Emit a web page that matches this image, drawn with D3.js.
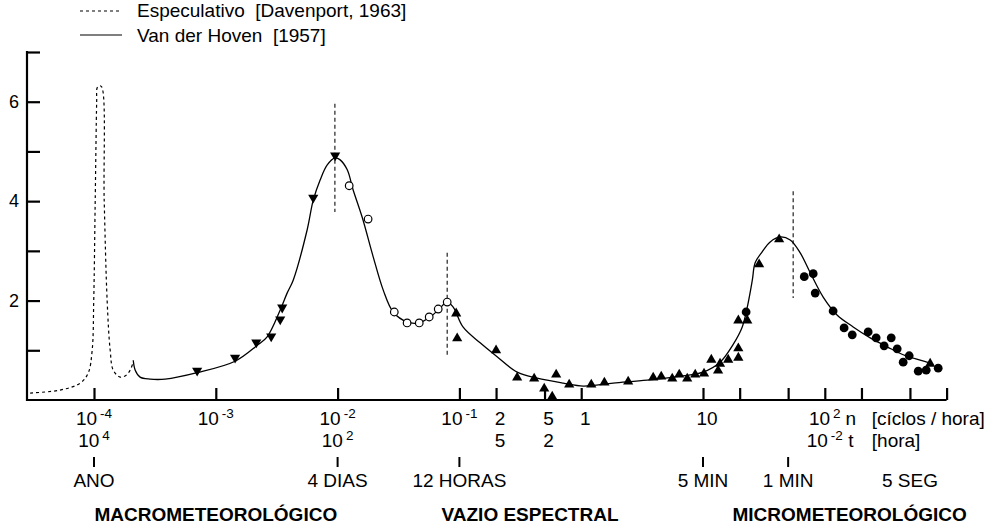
<!DOCTYPE html>
<html>
<head>
<meta charset="utf-8">
<script src="https://cdn.jsdelivr.net/npm/d3@7"></script>
<style>
body { margin: 0; background: #fff; }
text { font-family: Arial, "Liberation Sans", sans-serif; fill: #000; }
</style>
</head>
<body>
<div id="chart"></div>
<script>
// n = frequencia [ciclos / hora], S = energia espectral
var especulativo = [
    [2.99e-5, 0.14], [5.27e-5, 0.20], [7.71e-5, 0.34], [8.95e-5, 0.54], [9.66e-5, 1.0],
    [9.95e-5, 2.0], [1.023e-4, 4.0], [1.052e-4, 6.0], [1.062e-4, 6.28], [1.104e-4, 6.32],
    [1.156e-4, 6.3], [1.213e-4, 4.0], [1.282e-4, 2.0], [1.358e-4, 1.0], [1.439e-4, 0.6],
    [1.641e-4, 0.46], [1.837e-4, 0.5], [1.982e-4, 0.6], [2.099e-4, 0.76]
];
var vanDerHoven = [
    [2.10e-4, 0.80], [2.18e-4, 0.60], [2.39e-4, 0.46], [2.89e-4, 0.42], [3.84e-4, 0.42],
    [7.03e-4, 0.55], [1.44e-3, 0.78], [2.19e-3, 1.10], [2.64e-3, 1.27], [3.38e-3, 1.81],
    [3.85e-3, 2.15], [4.32e-3, 2.41], [5.62e-3, 3.42], [6.31e-3, 4.02], [7.20e-3, 4.43],
    [8.22e-3, 4.73], [9.55e-3, 4.87], [1.05e-2, 4.83], [1.20e-2, 4.63], [1.34e-2, 4.23],
    [1.59e-2, 3.68], [1.96e-2, 2.88], [2.37e-2, 2.21], [2.86e-2, 1.77], [3.72e-2, 1.57],
    [4.59e-2, 1.55], [5.76e-2, 1.67], [6.70e-2, 1.81], [7.94e-2, 1.97], [8.89e-2, 1.87],
    [0.107, 1.47], [0.148, 1.15], [0.204, 0.87], [0.298, 0.56], [0.435, 0.44],
    [0.711, 0.34], [1.04, 0.28], [1.83, 0.34], [3.48, 0.40], [6.50, 0.48],
    [10.0, 0.56], [13.8, 0.76], [17.7, 1.12], [21.0, 1.47], [23.1, 1.87],
    [25.4, 2.41], [26.8, 2.76], [30.6, 2.98], [35.6, 3.18], [43.0, 3.28],
    [52.0, 3.22], [62.8, 2.96], [75.9, 2.56], [97.0, 2.07], [126, 1.71],
    [171, 1.47], [236, 1.25], [325, 1.07], [440, 0.91], [607, 0.80], [733, 0.74]
];
var trianguloBaixo = [
    [7.03e-4, 0.56], [1.44e-3, 0.82], [2.15e-3, 1.13], [2.85e-3, 1.25], [3.38e-3, 1.59],
    [3.51e-3, 1.83], [6.31e-3, 4.04], [9.55e-3, 4.89]
];
var circuloAberto = [
    [1.245e-2, 4.31], [1.78e-2, 3.64], [2.92e-2, 1.77], [3.72e-2, 1.55], [4.68e-2, 1.55],
    [5.65e-2, 1.67], [6.70e-2, 1.83], [7.94e-2, 1.97]
];
var trianguloCima = [
    [9.41e-2, 1.77], [9.59e-2, 1.27], [0.200, 1.03], [0.298, 0.48], [0.411, 0.46],
    [0.497, 0.26], [0.623, 0.54], [0.578, 0.10], [0.797, 0.34], [1.21, 0.34],
    [1.55, 0.38], [2.43, 0.40], [3.90, 0.48], [4.54, 0.50], [5.59, 0.46],
    [6.38, 0.54], [7.42, 0.46], [8.63, 0.54], [10.2, 0.56], [11.7, 0.84],
    [13.3, 0.62], [13.8, 0.76], [16.1, 0.84], [19.5, 1.07], [19.5, 0.88],
    [19.5, 1.63], [23.1, 1.63], [28.9, 2.76], [42.2, 3.26], [733, 0.76]
];
var circuloCheio = [
    [22.6, 1.77], [67.8, 2.48], [80.3, 2.54], [83.4, 2.15], [117, 1.79],
    [144, 1.45], [168, 1.31], [227, 1.37], [264, 1.25], [307, 1.09],
    [351, 1.25], [393, 1.03], [493, 0.89], [440, 0.76], [585, 0.58],
    [680, 0.60], [853, 0.64]
];
// linhas verticais tracejadas: [n, S topo, S base]
var marcasPico = [[9.5e-3, 5.96, 3.78], [7.94e-2, 2.96, 0.85], [55, 4.2, 2.05]];

var nTicks = [1e-4, 1e-3, 1e-2, 1e-1, 0.2, 0.5, 1, 10, 20, 50, 100, 200, 500, 1000];
var yTicks = [1, 2, 3, 4, 5, 6, 7];
var nLabels = [[1e-4, "10", "-4"], [1e-3, "10", "-3"], [1e-2, "10", "-2"], [1e-1, "10", "-1"],
    [0.2, "2", ""], [0.5, "5", ""], [1, "1", ""], [10, "10", ""], [100, "10", "2"]];
var tLabels = [[1e-4, "10", "4"], [1e-2, "10", "2"], [0.2, "5", ""], [0.5, "2", ""], [100, "10", "-2"]];
var periodos = [[1e-4, "ANO", true], [1e-2, "4 DIAS", true], [1e-1, "12 HORAS", true],
    [10, "5 MIN", true], [50, "1 MIN", true], [500, "5 SEG", false]];
var regioes = [[1e-3, "MACROMETEOROLÓGICO"], [0.38, "VAZIO ESPECTRAL"], [160, "MICROMETEOROLÓGICO"]];

var width = 994, height = 526;
var axisX = 27, axisY = 400;

var svg = d3.select("#chart").append("svg").attr("width", width).attr("height", height);

var x = d3.scaleLog().domain([1e-4, 1000]).range([94, 946.6]);
var y = d3.scaleLinear().domain([0, 7]).range([axisY, 52]);

// eixos
svg.append("line").attr("x1", axisX).attr("x2", x(1000)).attr("y1", axisY).attr("y2", axisY)
    .attr("stroke", "#000").attr("stroke-width", 2.2);
svg.append("line").attr("x1", axisX).attr("x2", axisX).attr("y1", axisY + 1).attr("y2", y(7) - 1)
    .attr("stroke", "#000").attr("stroke-width", 2.2);

var gx = svg.append("g").attr("transform", "translate(0," + axisY + ")")
    .call(d3.axisBottom(x).tickValues(nTicks).tickSizeInner(-12).tickSizeOuter(0).tickFormat(""));
gx.select(".domain").remove();
gx.selectAll(".tick line").attr("stroke", "#000").attr("stroke-width", 2.2);

var gy = svg.append("g").attr("transform", "translate(" + axisX + ",0)")
    .call(d3.axisLeft(y).tickValues(yTicks).tickSizeInner(-13).tickSizeOuter(0).tickPadding(8)
        .tickFormat(d => d % 2 == 0 ? d : ""));
gy.select(".domain").remove();
gy.selectAll(".tick line").attr("stroke", "#000").attr("stroke-width", 2.2);
gy.selectAll(".tick text").attr("font-size", 18).attr("fill", "#000")
    .style("font-family", "Arial, 'Liberation Sans', sans-serif");

// rotulos com expoente
function rotulos(lista, baseY) {
    var t = svg.selectAll(null).data(lista).enter().append("text")
        .attr("x", d => x(d[0]) + (d[2] == "" ? 4 : 0)).attr("y", baseY)
        .attr("text-anchor", "middle").attr("font-size", 19);
    t.append("tspan").text(d => d[1]);
    t.filter(d => d[2] != "").append("tspan").attr("dx", 3).attr("dy", -7.5).attr("font-size", 13.5).text(d => d[2]);
}
rotulos(nLabels, 425);
rotulos(tLabels, 447);

svg.append("text").attr("x", x(100) + 26).attr("y", 425).attr("text-anchor", "middle").attr("font-size", 19).text("n");
svg.append("text").attr("x", x(100) + 26).attr("y", 447).attr("text-anchor", "middle").attr("font-size", 19).text("t");
svg.append("text").attr("x", x(100) + 47).attr("y", 425).attr("font-size", 19).text("[cíclos / hora]");
svg.append("text").attr("x", x(100) + 47).attr("y", 447).attr("font-size", 19).text("[hora]");

svg.selectAll(null).data(periodos.filter(d => d[2])).enter().append("line")
    .attr("x1", d => x(d[0])).attr("x2", d => x(d[0])).attr("y1", 457).attr("y2", 467)
    .attr("stroke", "#000").attr("stroke-width", 2);
svg.selectAll(null).data(periodos).enter().append("text")
    .attr("x", d => x(d[0])).attr("y", 487).attr("text-anchor", "middle").attr("font-size", 19)
    .text(d => d[1]);

svg.selectAll(null).data(regioes).enter().append("text")
    .attr("x", d => x(d[0])).attr("y", 521).attr("text-anchor", "middle")
    .attr("font-size", 19).attr("font-weight", "bold").text(d => d[1]);

// linhas verticais
svg.selectAll(null).data(marcasPico).enter().append("line")
    .attr("x1", d => x(d[0])).attr("x2", d => x(d[0])).attr("y1", d => y(d[1])).attr("y2", d => y(d[2]))
    .attr("stroke", "#222").attr("stroke-width", 1.2).attr("stroke-dasharray", "4,3");

// curvas
var line = d3.line().x(d => x(d[0])).y(d => y(d[1])).curve(d3.curveCatmullRom);
svg.append("path").attr("d", line(especulativo)).attr("fill", "none")
    .attr("stroke", "#000").attr("stroke-width", 1.2).attr("stroke-dasharray", "3,3");
svg.append("path").attr("d", line(vanDerHoven)).attr("fill", "none")
    .attr("stroke", "#000").attr("stroke-width", 1.3);

// marcadores
var tri = d3.symbol().type(d3.symbolTriangle).size(45);
svg.selectAll(null).data(trianguloBaixo).enter().append("path").attr("d", tri)
    .attr("transform", d => "translate(" + x(d[0]) + "," + (y(d[1]) - 1.5) + ") rotate(180)")
    .attr("fill", "#000");
svg.selectAll(null).data(trianguloCima).enter().append("path").attr("d", tri)
    .attr("transform", d => "translate(" + x(d[0]) + "," + (y(d[1]) + 1.5) + ")")
    .attr("fill", "#000");
svg.selectAll(null).data(circuloAberto).enter().append("circle")
    .attr("cx", d => x(d[0])).attr("cy", d => y(d[1])).attr("r", 3.8)
    .attr("fill", "#fff").attr("stroke", "#000").attr("stroke-width", 1.2);
svg.selectAll(null).data(circuloCheio).enter().append("circle")
    .attr("cx", d => x(d[0])).attr("cy", d => y(d[1])).attr("r", 4.4)
    .attr("fill", "#000");

// legenda
svg.append("line").attr("x1", 80).attr("x2", 122).attr("y1", 11).attr("y2", 11)
    .attr("stroke", "#000").attr("stroke-width", 1.2).attr("stroke-dasharray", "3,3");
svg.append("text").attr("x", 137).attr("y", 17).attr("font-size", 19).text("Especulativo  [Davenport, 1963]")
    .style("white-space", "pre");
svg.append("line").attr("x1", 80).attr("x2", 122).attr("y1", 35).attr("y2", 35)
    .attr("stroke", "#000").attr("stroke-width", 1.2);
svg.append("text").attr("x", 137).attr("y", 42).attr("font-size", 19).text("Van der Hoven  [1957]")
    .style("white-space", "pre");
</script>
</body>
</html>
